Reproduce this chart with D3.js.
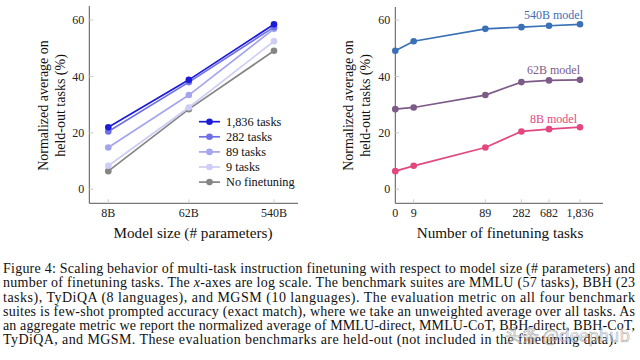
<!DOCTYPE html>
<html><head><meta charset="utf-8">
<script src="https://cdn.jsdelivr.net/npm/d3@7/dist/d3.min.js"></script>
<style>
html,body{margin:0;padding:0;background:#fff;}
svg{display:block;}
</style></head>
<body>
<svg id="c" width="640" height="360" font-family="'Liberation Serif','Times New Roman',serif"></svg>
<script>
// ---- data ----
const modelSizes = [8, 62, 540];
const modelLabels = ["8B", "62B", "540B"];
const taskCounts = [0, 9, 89, 282, 682, 1836];
const taskLabels = ["0", "9", "89", "282", "682", "1,836"];
const yTicks = [0, 20, 40, 60];

const leftSeriesNames = ["1,836 tasks", "282 tasks", "89 tasks", "9 tasks", "No finetuning"];
const tasks1836 = [22.0, 38.8, 58.5];
const tasks282 = [20.5, 38.0, 57.5];
const tasks89 = [14.8, 33.4, 56.9];
const tasks9 = [8.3, 29.0, 52.5];
const noFinetune = [6.4, 28.4, 49.1];
const leftColors = ["#1c1cd8", "#6f6fe6", "#a5a5ee", "#cdcdf6", "#858585"];

const rightSeriesNames = ["540B model", "62B model", "8B model"];
const model540 = [49.1, 52.5, 56.9, 57.5, 58.0, 58.5];
const model62 = [28.4, 29.0, 33.4, 38.0, 38.6, 38.8];
const model8 = [6.4, 8.3, 14.8, 20.5, 21.3, 22.0];
const rightColors = ["#3a70b5", "#7d5b88", "#e2487f"];

const captionLines = [
  "Figure 4: Scaling behavior of multi-task instruction finetuning with respect to model size (# parameters) and",
  "number of finetuning tasks. The |x|-axes are log scale. The benchmark suites are MMLU (57 tasks), BBH (23",
  "tasks), TyDiQA (8 languages), and MGSM (10 languages). The evaluation metric on all four benchmark",
  "suites is few-shot prompted accuracy (exact match), where we take an unweighted average over all tasks. As",
  "an aggregate metric we report the normalized average of MMLU-direct, MMLU-CoT, BBH-direct, BBH-CoT,",
  "TyDiQA, and MGSM. These evaluation benchmarks are held-out (not included in the finetuning data)."
];

const svg = d3.select("#c");

const y = d3.scaleLinear().domain([-5, 65]).range([203.3, 6]);
const xL = d3.scaleLog().domain([8, 540]).range([108.3, 274]);
const xRlog = d3.scaleLog().domain([5, 1836]).range([395.3, 580]);
const xR = v => xRlog(v === 0 ? 5 : v);

function frame(x0, x1, yTop) {
  const g = svg.append("g");
  g.append("line").attr("x1", x0).attr("x2", x0).attr("y1", yTop).attr("y2", y(-5))
    .attr("stroke", "#555").attr("stroke-width", 1);
  g.append("line").attr("x1", x0).attr("x2", x1).attr("y1", y(-5)).attr("y2", y(-5))
    .attr("stroke", "#555").attr("stroke-width", 1);
  yTicks.forEach(t => {
    g.append("line").attr("x1", x0).attr("x2", x0 + 4).attr("y1", y(t)).attr("y2", y(t))
      .attr("stroke", "#ccc");
    g.append("text").attr("x", x0 - 5).attr("y", y(t)).attr("dy", "0.35em")
      .attr("text-anchor", "end").attr("font-size", 12).attr("fill", "#222").text(t);
  });
  return g;
}

// ---- left chart ----
const gl = frame(89.3, 298, 6);
modelSizes.forEach((m, i) => {
  gl.append("line").attr("x1", xL(m)).attr("x2", xL(m)).attr("y1", y(-5)).attr("y2", y(-5) - 4).attr("stroke", "#ccc");
  gl.append("text").attr("x", xL(m)).attr("y", 213).attr("dy", "0.35em").attr("text-anchor", "middle")
    .attr("font-size", 12).attr("fill", "#222").text(modelLabels[i]);
});
gl.append("text").attr("x", 193).attr("y", 233).attr("dy", "0.35em").attr("text-anchor", "middle")
  .attr("font-size", 15.2).attr("fill", "#111").text("Model size (# parameters)");
[["Normalized average on", 43.5], ["held-out tasks (%)", 60]].forEach(([t, xx]) => {
  gl.append("text").attr("transform", `translate(${xx},105.5) rotate(-90)`).attr("dy", "0.35em")
    .attr("text-anchor", "middle").attr("font-size", 14).attr("fill", "#111").text(t);
});
const leftData = [tasks1836, tasks282, tasks89, tasks9, noFinetune];
const lineL = d3.line().x((d, i) => xL(modelSizes[i])).y(d => y(d));
for (let k = leftData.length - 1; k >= 0; k--) {
  gl.append("path").attr("d", lineL(leftData[k])).attr("fill", "none")
    .attr("stroke", leftColors[k]).attr("stroke-width", 1.7);
  gl.selectAll(null).data(leftData[k]).enter().append("circle")
    .attr("cx", (d, i) => xL(modelSizes[i])).attr("cy", d => y(d)).attr("r", 3.3)
    .attr("fill", leftColors[k]);
}
// legend
leftSeriesNames.forEach((n, k) => {
  const ly = 121.7 + k * 15.1;
  gl.append("line").attr("x1", 199).attr("x2", 220).attr("y1", ly).attr("y2", ly)
    .attr("stroke", leftColors[k]).attr("stroke-width", 1.7);
  gl.append("circle").attr("cx", 209.5).attr("cy", ly).attr("r", 3.3).attr("fill", leftColors[k]);
  gl.append("text").attr("x", 226).attr("y", ly).attr("dy", "0.35em").attr("font-size", 12.3)
    .attr("fill", "#111").text(n);
});

// ---- right chart ----
const gr = frame(395.3, 603, 7);
taskCounts.forEach((t, i) => {
  if (t !== 0) gr.append("line").attr("x1", xR(t)).attr("x2", xR(t)).attr("y1", y(-5)).attr("y2", y(-5) - 4).attr("stroke", "#ccc");
  gr.append("text").attr("x", xR(t)).attr("y", 213).attr("dy", "0.35em").attr("text-anchor", "middle")
    .attr("font-size", 12).attr("fill", "#222").text(taskLabels[i]);
});
gr.append("text").attr("x", 500).attr("y", 233).attr("dy", "0.35em").attr("text-anchor", "middle")
  .attr("font-size", 15.2).attr("fill", "#111").text("Number of finetuning tasks");
[["Normalized average on", 348.5], ["held-out tasks (%)", 365]].forEach(([t, xx]) => {
  gr.append("text").attr("transform", `translate(${xx},105.5) rotate(-90)`).attr("dy", "0.35em")
    .attr("text-anchor", "middle").attr("font-size", 14).attr("fill", "#111").text(t);
});
const rightData = [model540, model62, model8];
const lineR = d3.line().x((d, i) => xR(taskCounts[i])).y(d => y(d));
const rightLabelY = [15, 69.5, 119];
rightData.forEach((s, k) => {
  gr.append("path").attr("d", lineR(s)).attr("fill", "none")
    .attr("stroke", rightColors[k]).attr("stroke-width", 1.7);
  gr.selectAll(null).data(s).enter().append("circle")
    .attr("cx", (d, i) => xR(taskCounts[i])).attr("cy", d => y(d)).attr("r", 3.3)
    .attr("fill", rightColors[k]);
  gr.append("text").attr("x", 553.5).attr("y", rightLabelY[k]).attr("dy", "0.35em")
    .attr("text-anchor", "middle").attr("font-size", 12).attr("fill", rightColors[k]).text(rightSeriesNames[k]);
});

// ---- caption ----
const cap = svg.append("g");
const capY = [268, 282.3, 296.6, 310.9, 325.2, 339.5];
const capW = [632, 632, 632, 632, 632, 614];
captionLines.forEach((line, i) => {
  const t = cap.append("text").attr("x", 3).attr("y", capY[i]).attr("dy", "0.35em")
    .attr("font-size", 14).attr("fill", "#111")
    .attr("textLength", capW[i]).attr("lengthAdjust", "spacing");
  line.split("|").forEach((part, j) => {
    t.append("tspan").attr("font-style", j === 1 ? "italic" : null).text(part);
  });
});

// watermark
svg.append("text").attr("x", 505).attr("y", 342).attr("font-size", 17)
  .attr("font-family", "'Noto Sans CJK SC', sans-serif")
  .attr("fill", "rgba(255,255,255,0.55)").attr("stroke", "rgba(110,110,110,0.55)").attr("stroke-width", 0.7)
  .text("头条 @deephub");
</script>
</body></html>
